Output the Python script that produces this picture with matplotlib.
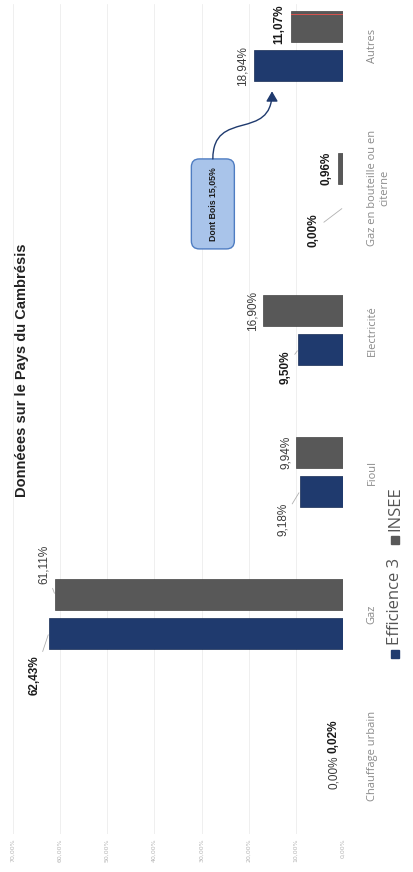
import matplotlib.pyplot as plt
from matplotlib.patches import FancyBboxPatch, FancyArrowPatch, Rectangle
from matplotlib.path import Path
from matplotlib.transforms import ScaledTranslation, IdentityTransform

categories = ["Chauffage urbain", "Gaz", "Fioul", "Electricité",
              "Gaz en bouteille ou en\nciterne", "Autres"]
efficience = [0.00, 62.43, 9.18, 9.50, 0.00, 18.94]
insee = [0.02, 61.11, 9.94, 16.90, 0.96, 11.07]
bois = 15.05
value_ticks = [0, 10, 20, 30, 40, 50, 60, 70]

# which value labels are bold
eff_bold = [False, True, False, True, True, False]
ins_bold = [True, False, False, False, True, True]
# label offsets in pixels (dx, dy) and whether a leader line is drawn
eff_offsets = [(-9, 3), (-14, -42), (-17, -28), (-13, -18), (-29, -22), (-11, 0)]
eff_leader = [False, True, True, True, True, False]
ins_offsets = [(-9, 0), (-11, 30), (-10, 0), (-11, 0), (-12, 0), (-12, 3)]
ins_leader = [False, True, False, False, False, False]

blue = "#1f3a6e"
grey = "#585858"
sans = ["Liberation Sans", "DejaVu Sans"]
light = ["Open Sans", "DejaVu Sans"]


def pct(v):
    return f"{v:.2f}".replace(".", ",") + "%"


fig = plt.figure(figsize=(4.14, 8.72), dpi=100)
ax = fig.add_axes([0.0314, 0.0436, 0.797, 0.952])

pos = list(range(len(categories)))
w = 0.218
off = 0.137
ax.barh([p - off for p in pos], efficience, height=w, color=blue, edgecolor="#172c55", lw=0.5)
ax.barh([p + off for p in pos], insee, height=w, color=grey, edgecolor="#444444", lw=0.5)

ax.set_xlim(70, 0)
ax.set_ylim(-0.55, 5.3)

for s in ax.spines.values():
    s.set_visible(False)
ax.grid(axis="x", color="#ededed", lw=0.6)
ax.set_axisbelow(True)

ax.set_xticks(value_ticks)
ax.set_xticklabels([pct(t) for t in value_ticks], rotation=90, fontsize=4.5,
                   color="#b5b5b5")
ax.tick_params(axis="x", length=0, pad=3)

ax.set_yticks(pos)
ax.set_yticklabels(categories, fontsize=8, color="#8a8a8a", family=light)
ax.yaxis.tick_right()
ax.tick_params(axis="y", length=0, pad=17)
for lbl in ax.get_yticklabels():
    lbl.set_rotation(90)
    lbl.set_va("center")
    lbl.set_ha("left")
    lbl.set_multialignment("center")

# value labels
series = [(efficience, -off, eff_bold, eff_offsets, eff_leader),
          (insee, off, ins_bold, ins_offsets, ins_leader)]
for vals, shift, bolds, offs, leaders in series:
    for p, v, b, o, lead in zip(pos, vals, bolds, offs, leaders):
        props = dict(arrowstyle="-", color="#b0b0b0", lw=0.6, shrinkA=1, shrinkB=1) if lead else None
        ax.annotate(pct(v), xy=(v, p + shift), xytext=o, textcoords="offset pixels",
                    rotation=90, ha="center", va="center", fontsize=8.5, family=sans,
                    fontweight="bold" if b else "normal",
                    color="#1a1a1a" if b else "#3c3c3c", arrowprops=props)

# thin red line along the top of the last INSEE bar
ax.plot([0, insee[-1]], [pos[-1] + off + w / 2 - 0.015] * 2, color="#d9534f", lw=0.7)

# callout box "Dont Bois"
cx, cy = 27.6, 3.89
bw, bh = 0.43, 0.90
box_tr = fig.dpi_scale_trans + ScaledTranslation(cx, cy, ax.transData)
ax.add_patch(FancyBboxPatch((-bw / 2, -bh / 2), bw, bh,
                            boxstyle="round,pad=0,rounding_size=0.08",
                            fc="#a9c4ea", ec="#4f7dc2", lw=1.0, transform=box_tr, zorder=3))
ax.text(cx, cy, "Dont Bois " + pct(bois), rotation=90, ha="center", va="center",
        fontsize=6.3, fontweight="bold", color="#1a1a1a", family=sans, zorder=4)

# curved arrow from the box to the wood share of the "Autres" bar
x0, y0 = ax.transData.transform((cx, cy))
y0 += bh * fig.dpi / 2
x3, y3 = ax.transData.transform((bois, pos[-1] - off - w / 2))
y3 -= 10
rise = (y3 - y0) * 0.75
curve = Path([(x0, y0), (x0, y0 + rise), (x3, y3 - rise), (x3, y3)],
             [Path.MOVETO, Path.CURVE4, Path.CURVE4, Path.CURVE4])
fig.add_artist(FancyArrowPatch(path=curve, arrowstyle="-|>,head_length=0.6,head_width=0.35",
                               mutation_scale=10, color=blue, lw=1.0,
                               transform=IdentityTransform()))

# title
fig.text(22 / 414, 1 - 370 / 872, "Donnéees sur le Pays du Cambrésis", rotation=90,
         ha="center", va="center", fontsize=10.5, fontweight="bold", color="#222222",
         family=sans)

# legend
sq = 8
fig.add_artist(Rectangle(((395 - sq / 2) / 414, 1 - (654 + sq / 2) / 872), sq / 414, sq / 872,
                         transform=fig.transFigure, color=blue))
fig.text(395 / 414, 1 - 645 / 872, "Efficience 3", rotation=90, ha="center", va="bottom",
         fontsize=12, color="#555555", family=light)
fig.add_artist(Rectangle(((395 - sq / 2) / 414, 1 - (540 + sq / 2) / 872), sq / 414, sq / 872,
                         transform=fig.transFigure, color=grey))
fig.text(395 / 414, 1 - 531 / 872, "INSEE", rotation=90, ha="center", va="bottom",
         fontsize=12, color="#555555", family=light)

fig.savefig("out.png", dpi=100)
